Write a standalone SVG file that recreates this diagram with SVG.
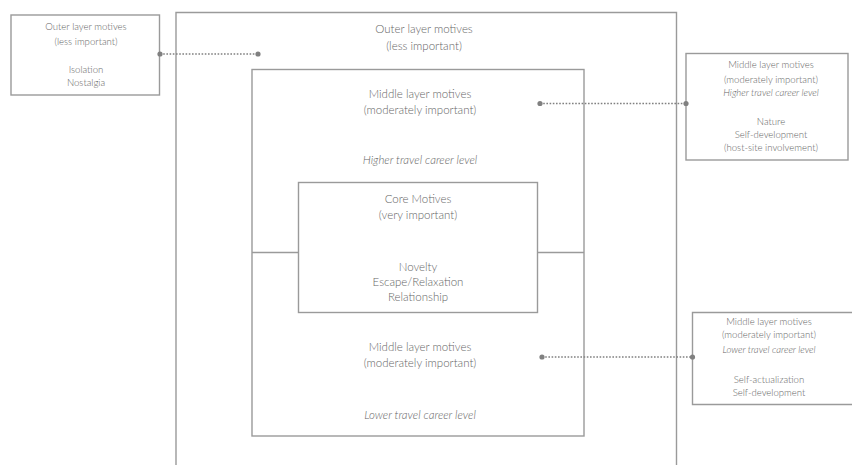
<svg xmlns="http://www.w3.org/2000/svg" width="852" height="465" viewBox="0 0 852 465">
<style>
.box{fill:none;stroke:#9a9a9a;stroke-width:1.4}
.t{font-family:Lato,"Open Sans","Liberation Sans",sans-serif;font-weight:300;fill:#666;text-anchor:middle}
.m{font-size:11.5px}
.s{font-size:9.6px}
.i{font-style:italic}
.con{stroke:#808080;stroke-width:1.6;stroke-dasharray:1.6 1.6;fill:none}
.dot{fill:#808080}
</style>
<rect width="852" height="465" fill="#fff"/>
<g id="outer">
<path class="box" d="M176,470 V12.5 H676.5 V470"/>
<text class="t m" x="424" y="33">Outer layer motives</text>
<text class="t m" x="424" y="50">(less important)</text>
</g>
<g id="middle">
<rect class="box" x="252" y="69.5" width="332" height="366.5"/>
<line class="box" x1="252" y1="252.5" x2="298.5" y2="252.5"/>
<line class="box" x1="537.5" y1="252.5" x2="584" y2="252.5"/>
<text class="t m" x="420" y="98">Middle layer motives</text>
<text class="t m" x="420" y="114">(moderately important)</text>
<text class="t m i" x="420" y="164">Higher travel career level</text>
<text class="t m" x="420" y="351">Middle layer motives</text>
<text class="t m" x="420" y="367">(moderately important)</text>
<text class="t m i" x="420" y="419">Lower travel career level</text>
</g>
<g id="core">
<rect class="box" x="298.5" y="182.5" width="239" height="130"/>
<text class="t m" x="418" y="203">Core Motives</text>
<text class="t m" x="418" y="219">(very important)</text>
<text class="t m" x="418" y="271">Novelty</text>
<text class="t m" x="418" y="286">Escape/Relaxation</text>
<text class="t m" x="418" y="301">Relationship</text>
</g>
<g id="left-box">
<rect class="box" x="11" y="15" width="148.5" height="80"/>
<text class="t s" x="86" y="30">Outer layer motives</text>
<text class="t s" x="86" y="45">(less important)</text>
<text class="t s" x="86" y="73">Isolation</text>
<text class="t s" x="86" y="86">Nostalgia</text>
</g>
<g id="right-top-box">
<rect class="box" x="686" y="53.5" width="162" height="106.5"/>
<text class="t s" x="771" y="68">Middle layer motives</text>
<text class="t s" x="771" y="83">(moderately important)</text>
<text class="t s i" x="771" y="96">Higher travel career level</text>
<text class="t s" x="771" y="125">Nature</text>
<text class="t s" x="771" y="138">Self-development</text>
<text class="t s" x="771" y="151">(host-site involvement)</text>
</g>
<g id="right-bottom-box">
<path class="box" d="M860,312.5 H692.5 V404.5 H860"/>
<text class="t s" x="769" y="325">Middle layer motives</text>
<text class="t s" x="769" y="338">(moderately important)</text>
<text class="t s i" x="769" y="353">Lower travel career level</text>
<text class="t s" x="769" y="383">Self-actualization</text>
<text class="t s" x="769" y="396">Self-development</text>
</g>
<g id="connectors">
<line class="con" x1="160" y1="54" x2="258" y2="54"/>
<circle class="dot" cx="160" cy="54" r="2.6"/>
<circle class="dot" cx="258" cy="54" r="2.6"/>
<line class="con" x1="540" y1="103.5" x2="686" y2="103.5"/>
<circle class="dot" cx="540" cy="103.5" r="2.6"/>
<circle class="dot" cx="686" cy="103.5" r="2.6"/>
<line class="con" x1="542" y1="357" x2="692.5" y2="357"/>
<circle class="dot" cx="542" cy="357" r="2.6"/>
<circle class="dot" cx="692.5" cy="357" r="2.6"/>
</g>
</svg>
